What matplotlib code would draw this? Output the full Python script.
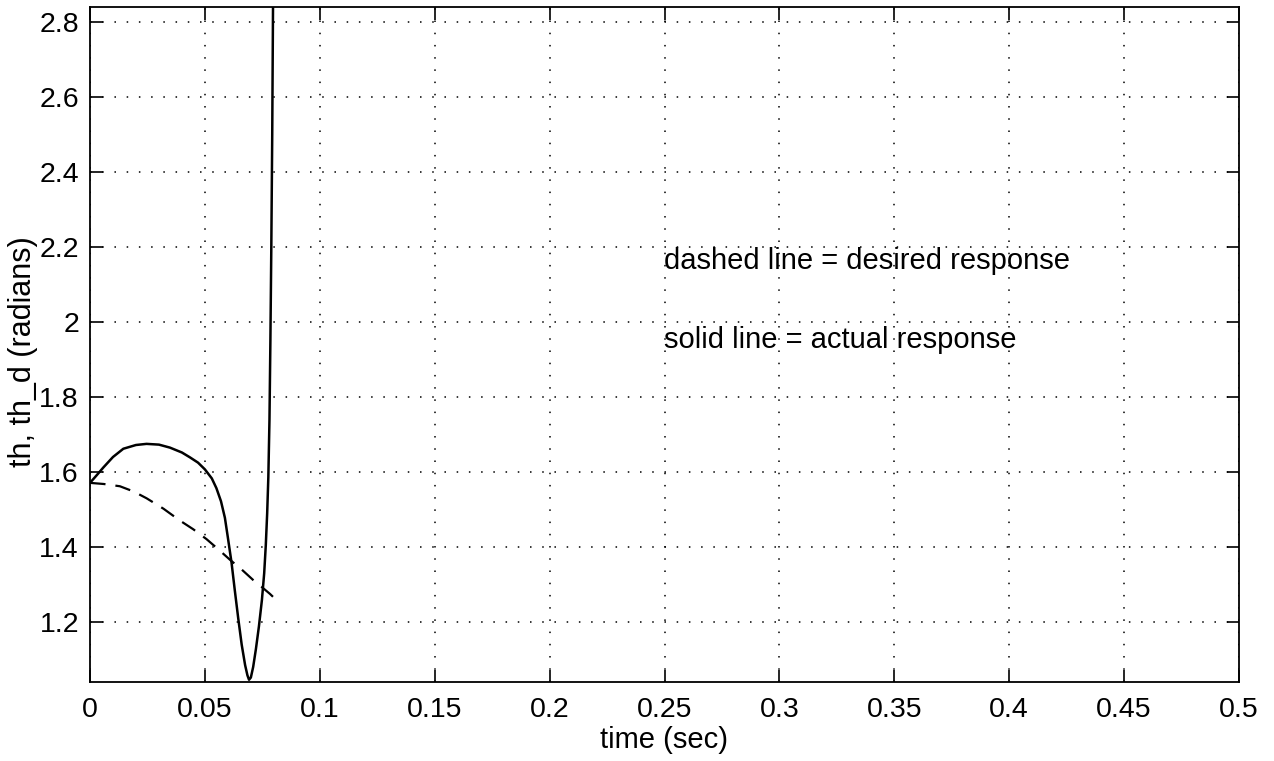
import matplotlib
matplotlib.use("Agg")
import matplotlib.pyplot as plt

plt.rcParams['font.family'] = ['Liberation Sans', 'DejaVu Sans']

# actual response (solid)
t_actual = [0.0, 0.003, 0.0058, 0.010, 0.0145, 0.020, 0.0246, 0.030, 0.0348,
            0.040, 0.0435, 0.047, 0.050, 0.053, 0.055, 0.057, 0.0587, 0.060,
            0.0616, 0.063, 0.0645, 0.066, 0.0675, 0.0685, 0.0692, 0.0700,
            0.0710, 0.0722, 0.0735, 0.0748, 0.0758, 0.0765, 0.0771, 0.0776,
            0.0781, 0.0785, 0.0789, 0.0793, 0.0797]
th_actual = [1.571, 1.592, 1.612, 1.640, 1.662, 1.672, 1.675, 1.673, 1.665,
             1.652, 1.639, 1.625, 1.607, 1.583, 1.557, 1.522, 1.478, 1.425,
             1.358, 1.285, 1.210, 1.140, 1.085, 1.058, 1.046, 1.052,
             1.080, 1.128, 1.188, 1.258, 1.330, 1.405, 1.490, 1.585,
             1.740, 1.950, 2.200, 2.500, 2.900]

# desired response (dashed)
t_desired = [0.0, 0.006, 0.013, 0.019, 0.0246, 0.032, 0.039, 0.045, 0.0507,
             0.056, 0.0609, 0.066, 0.071, 0.075, 0.0783, 0.080]
th_desired = [1.571, 1.568, 1.562, 1.548, 1.530, 1.502, 1.471, 1.447, 1.421,
              1.393, 1.366, 1.340, 1.312, 1.292, 1.275, 1.265]

x_ticks = [0, 0.05, 0.1, 0.15, 0.2, 0.25, 0.3, 0.35, 0.4, 0.45, 0.5]
x_labels = ['0', '0.05', '0.1', '0.15', '0.2', '0.25', '0.3', '0.35', '0.4', '0.45', '0.5']
y_ticks = [1.2, 1.4, 1.6, 1.8, 2.0, 2.2, 2.4, 2.6, 2.8]
y_labels = ['1.2', '1.4', '1.6', '1.8', '2', '2.2', '2.4', '2.6', '2.8']

fig = plt.figure(figsize=(12.74, 7.61), dpi=100)
ax = fig.add_axes([90 / 1274, 1 - 682 / 761, (1239 - 90) / 1274, (682 - 7) / 761])

ax.plot(t_actual, th_actual, color='black', linewidth=1.8, linestyle='-')
ax.plot(t_desired, th_desired, color='black', linewidth=1.6, linestyle=(0, (7, 4.5)))

ax.set_xlim(0, 0.5)
ax.set_ylim(1.04, 2.84)
ax.set_xticks(x_ticks)
ax.set_xticklabels(x_labels)
ax.set_yticks(y_ticks)
ax.set_yticklabels(y_labels)

ax.grid(True, color='black', linestyle=(0, (1, 7)), linewidth=1.1)
ax.tick_params(direction='in', length=9, width=1.2, top=True, right=True,
               labelsize=20.5, pad=8, colors='black')
ax.tick_params(axis='x', pad=11)
for s in ax.spines.values():
    s.set_linewidth(1.3)

ax.set_xlabel('time (sec)', fontsize=21, labelpad=2)
ax.set_ylabel('th, th_d (radians)', fontsize=22)
ax.yaxis.set_label_coords(-0.045, 0.49)

ax.text(0.25, 2.163, 'dashed line = desired response', fontsize=21, va='center', ha='left')
ax.text(0.25, 1.951, 'solid line = actual response', fontsize=21, va='center', ha='left')

fig.savefig('out.png', dpi=100)
